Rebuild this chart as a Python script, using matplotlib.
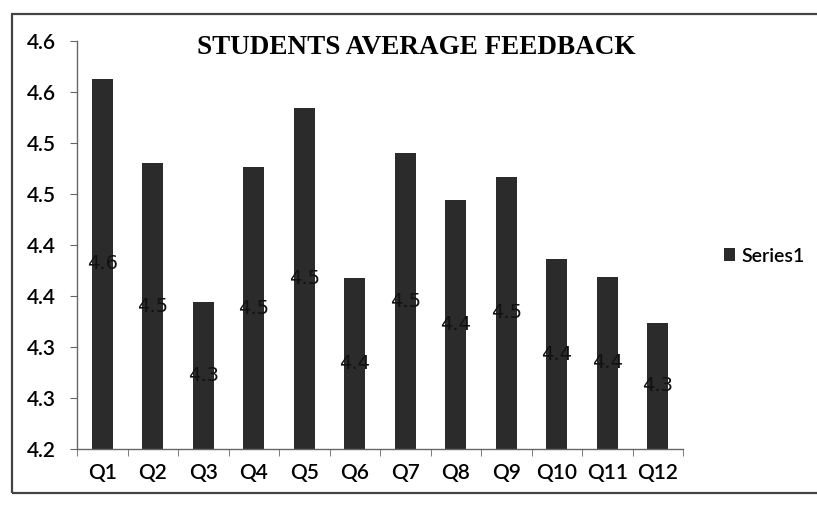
import matplotlib
matplotlib.use("Agg")
import matplotlib.pyplot as plt
from matplotlib.patches import Rectangle
import numpy as np

categories = ["Q1", "Q2", "Q3", "Q4", "Q5", "Q6", "Q7", "Q8", "Q9", "Q10", "Q11", "Q12"]
values = [4.563, 4.480, 4.344, 4.476, 4.534, 4.368, 4.49, 4.444, 4.467, 4.386, 4.369, 4.324]
ytick_values = [4.20, 4.25, 4.30, 4.35, 4.40, 4.45, 4.50, 4.55, 4.60]
ytick_labels = ["4.2", "4.3", "4.3", "4.4", "4.4", "4.5", "4.5", "4.6", "4.6"]
series_name = "Series1"
title = "STUDENTS AVERAGE FEEDBACK"

W, H = 817, 507
fig = plt.figure(figsize=(W / 100, H / 100), dpi=100)
fig.patch.set_facecolor("white")

ax = fig.add_axes([77 / W, 1 - 449 / H, (683 - 77) / W, (449 - 41) / H])
x = np.arange(len(categories))
bars = ax.bar(x, values, width=0.42, color="#2b2b2b", label=series_name, zorder=2)
ax.bar_label(bars, fmt="%.1f", label_type="center", fontsize=14,
             family="DejaVu Sans", color="#111111")

ax.set_xlim(-0.5, len(categories) - 0.5)
ax.set_ylim(4.2, 4.6)
ax.set_yticks(ytick_values)
ax.set_yticklabels(ytick_labels, family="Lato", fontsize=15, fontweight="semibold")
ax.set_xticks(x)
ax.set_xticklabels(categories, family="Lato", fontsize=15, fontweight="semibold")
ax.set_xticks(np.arange(-0.5, len(categories), 1.0), minor=True)
ax.tick_params(axis="x", which="major", length=0, pad=10)
ax.tick_params(axis="x", which="minor", length=5, direction="out", color="#666666")
ax.tick_params(axis="y", length=5, direction="out", color="#666666", pad=10)

for s in ["top", "right"]:
    ax.spines[s].set_visible(False)
for s in ["left", "bottom"]:
    ax.spines[s].set_color("#666666")
    ax.spines[s].set_linewidth(1.0)

fig.text(416 / W, 1 - 48 / H, title, ha="center", va="center",
         family="Liberation Serif", fontweight="bold", fontsize=19.5)

ax.legend(loc="center left", bbox_to_anchor=(706 / W, 1 - 256 / H),
          bbox_transform=fig.transFigure, frameon=False,
          handlelength=0.6, handleheight=0.6, handletextpad=0.3,
          prop={"family": "Lato", "size": 14, "weight": "semibold"})

frame = Rectangle((12 / W, 1 - 493 / H), 1.2, (493 - 14) / H,
                  transform=fig.transFigure, fill=False,
                  edgecolor="#444444", linewidth=1.6, zorder=0)
fig.patches.append(frame)

fig.savefig("out.png", dpi=100)
